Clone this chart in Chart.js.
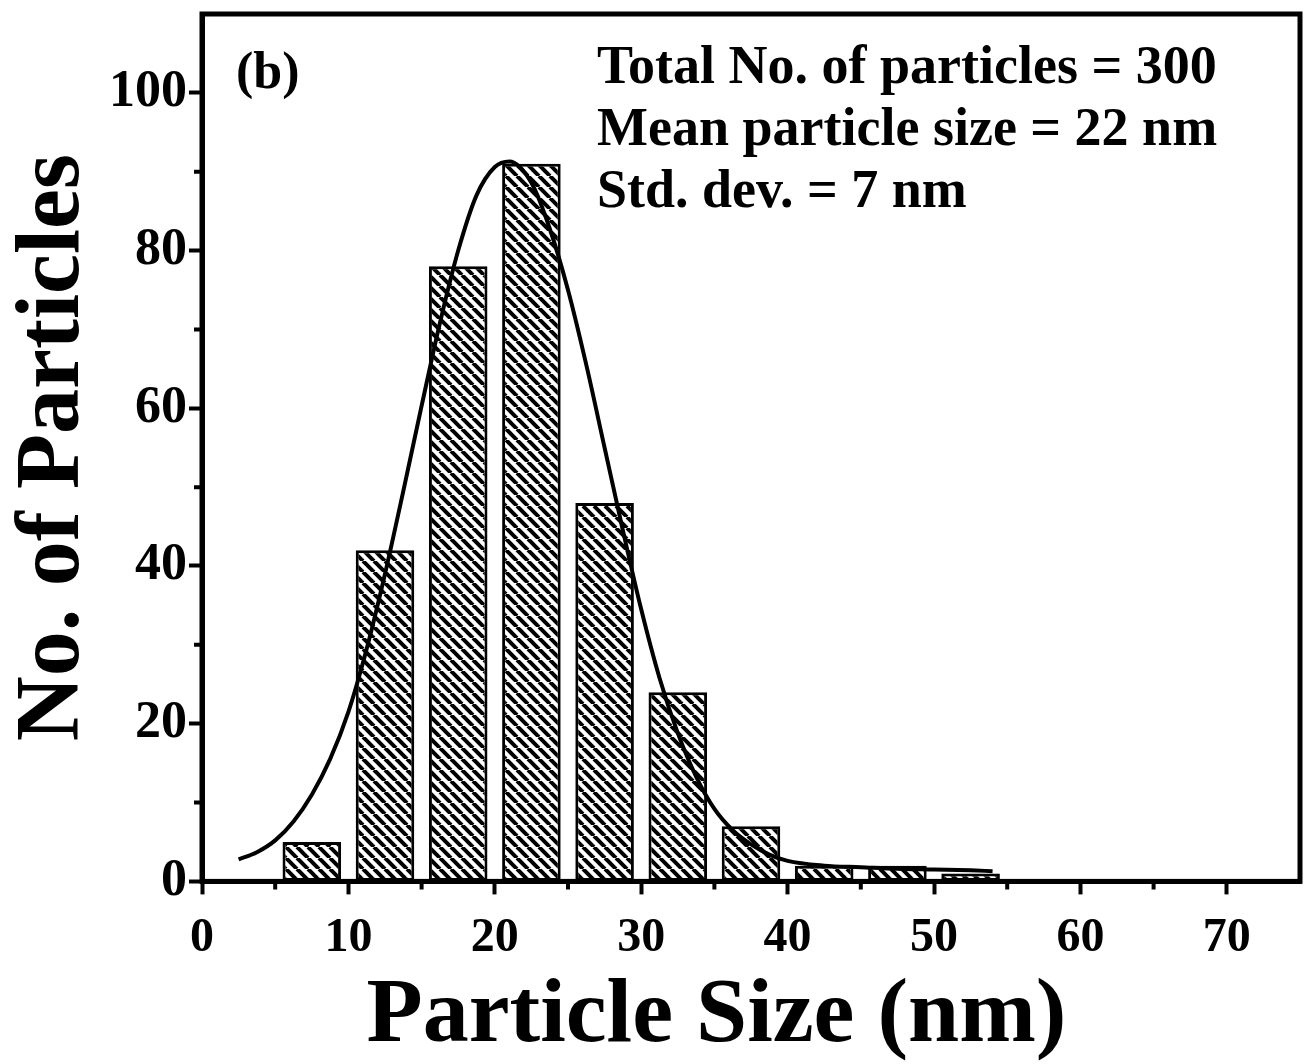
<!DOCTYPE html>
<html><head><meta charset="utf-8">
<script src="https://cdn.jsdelivr.net/npm/chart.js@4/dist/chart.umd.min.js"></script>
<style>html,body{margin:0;padding:0;background:#fff}#wrap{width:1309px;height:1064px}</style>
</head><body><div id="wrap"><canvas id="c" width="1309" height="1064"></canvas></div>
<script>
// ---- data ----
const binCenters = [7.5, 12.5, 17.5, 22.5, 27.5, 32.5, 37.5, 42.5, 47.5, 52.5];
const counts     = [5, 42, 78, 91, 48, 24, 7, 2, 2, 1];
const fitX = [2.5, 3.75, 5, 6.25, 7.5, 8.75, 10, 11.25, 12.5, 13.75, 15, 16.25, 17.5, 18.75, 20, 21, 22.5, 23.75, 25, 26.25, 27.5, 28.75, 30, 31.25, 32.5, 33.75, 35, 36.25, 37.5, 38.75, 40, 42.5, 45, 47.5, 50, 52.5, 54];
const fitY = [2.8, 3.7, 5.2, 7.6, 11, 15.5, 21.5, 29.5, 39, 49.5, 60.3, 70.8, 80, 87, 90.6, 91.3, 88.6, 82.8, 75, 65.5, 55, 44.5, 34.5, 25.8, 18.8, 13.3, 9.2, 6.5, 4.7, 3.4, 2.6, 2.0, 1.8, 1.6, 1.5, 1.4, 1.3];
const xTickValues = [0, 10, 20, 30, 40, 50, 60, 70];
const yTickValues = [0, 20, 40, 60, 80, 100];
const xMinorTicks = [5, 15, 25, 35, 45, 55, 65];
const yMinorTicks = [10, 30, 50, 70, 90];
const annotationLines = ['Total No. of particles = 300', 'Mean particle size = 22 nm', 'Std. dev. = 7 nm'];
const panelLabel = '(b)';
const xTitle = 'Particle Size (nm)';
const yTitle = 'No. of Particles';

const SERIF = "'Liberation Serif', 'Times New Roman', 'DejaVu Serif', serif";

function hatch() {
  const s = 11, c = document.createElement('canvas');
  c.width = s; c.height = s;
  const g = c.getContext('2d');
  g.fillStyle = '#fff'; g.fillRect(0, 0, s, s);
  g.strokeStyle = '#000'; g.lineWidth = 4;
  for (const k of [-s, 0, s]) { g.beginPath(); g.moveTo(k, 0); g.lineTo(k + s, s); g.stroke(); }
  return g.createPattern(c, 'repeat');
}

const framePlugin = {
  id: 'frame',
  afterDraw(chart) {
    const ctx = chart.ctx, a = chart.chartArea;
    const xs = chart.scales.x, ys = chart.scales.y;
    ctx.save();
    ctx.strokeStyle = '#000';
    ctx.lineWidth = 4;
    ctx.beginPath();
    for (const v of xMinorTicks) { const px = xs.getPixelForValue(v); ctx.moveTo(px, a.bottom); ctx.lineTo(px, a.bottom + 8); }
    for (const v of yMinorTicks) { const py = ys.getPixelForValue(v); ctx.moveTo(a.left, py); ctx.lineTo(a.left - 8, py); }
    ctx.stroke();
    ctx.lineWidth = 5;
    ctx.strokeRect(a.left, a.top, a.right - a.left, a.bottom - a.top);
    ctx.fillStyle = '#000';
    ctx.textBaseline = 'alphabetic';
    ctx.textAlign = 'left';
    ctx.font = 'bold 52px ' + SERIF;
    ctx.fillText(panelLabel, a.left + 34, a.top + 74);
    ctx.font = 'bold 54px ' + SERIF;
    annotationLines.forEach((t, i) => ctx.fillText(t, a.left + 395, a.top + 69 + i * 62));
    ctx.textAlign = 'center';
    ctx.font = 'bold 92px ' + SERIF;
    ctx.fillText(xTitle, a.left + 0.4686 * (a.right - a.left), a.bottom + 160);
    ctx.restore();
  }
};

const barData = binCenters.map((x, i) => ({ x, y: counts[i] }));
const fitData = fitX.map((x, i) => ({ x, y: fitY[i] }));

new Chart(document.getElementById('c'), {
  type: 'bar',
  data: {
    datasets: [
      { type: 'line', data: fitData, borderColor: '#000', borderWidth: 4, pointRadius: 0,
        cubicInterpolationMode: 'monotone', fill: false, order: 0 },
      { type: 'bar', data: barData, backgroundColor: hatch(), borderColor: '#000', borderWidth: 3,
        borderSkipped: false, barPercentage: 0.8, categoryPercentage: 1.0, order: 1 }
    ]
  },
  options: {
    responsive: false, animation: false, devicePixelRatio: 1,
    layout: { padding: { left: 4, right: 9, top: 14, bottom: 82 } },
    plugins: { legend: { display: false }, tooltip: { enabled: false } },
    scales: {
      x: {
        type: 'linear', min: 0, max: 75, offset: false,
        border: { display: true, color: '#000', width: 5 },
        grid: { display: true, drawOnChartArea: false, offset: false, tickLength: 13, tickWidth: 4, tickColor: '#000' },
        afterBuildTicks: s => { s.ticks = xTickValues.map(v => ({ value: v })); },
        ticks: { color: '#000', font: { family: SERIF, weight: 'bold', size: 48 }, padding: 15, maxRotation: 0 },
        title: { display: false, text: xTitle }
      },
      y: {
        min: 0, max: 110,
        border: { display: true, color: '#000', width: 5 },
        grid: { display: true, drawOnChartArea: false, tickLength: 13, tickWidth: 4, tickColor: '#000' },
        afterBuildTicks: s => { s.ticks = yTickValues.map(v => ({ value: v })); },
        afterFit: s => { s.paddingTop = 0; s.paddingBottom = 0; },
        ticks: { color: '#000', font: { family: SERIF, weight: 'bold', size: 52 }, padding: 2 },
        title: { display: true, text: yTitle, color: '#000', font: { family: SERIF, weight: 'bold', size: 90, lineHeight: 1.0 }, padding: { top: 6, bottom: 7 } }
      }
    }
  },
  plugins: [framePlugin]
});
</script></body></html>
